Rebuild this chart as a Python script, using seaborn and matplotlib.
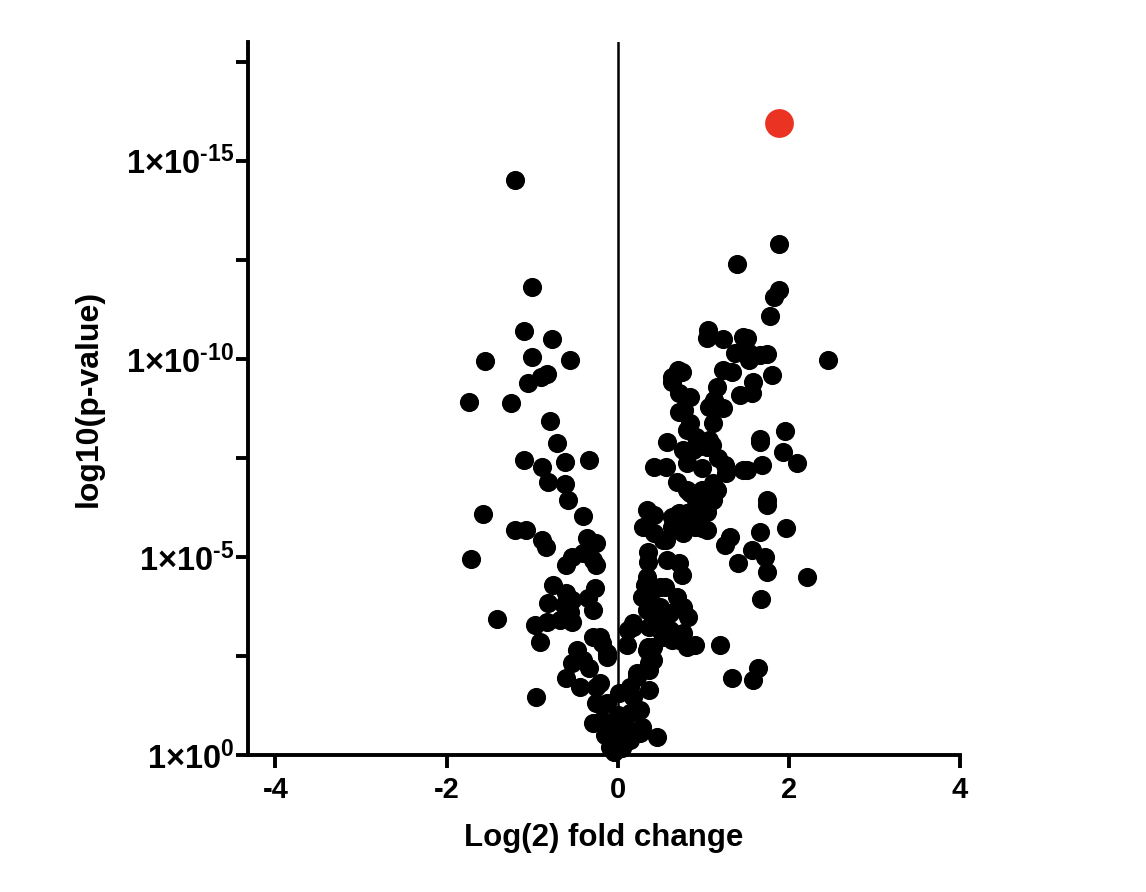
import matplotlib
matplotlib.use("Agg")
import matplotlib.pyplot as plt
import seaborn as sns
import pandas as pd
from matplotlib.ticker import FixedLocator

# ---- data: log2 fold change and -log10(p-value) ----
log2fc = [
    -1.20, -1.00, -1.10, -0.77, -1.55, -1.00, -0.56, -1.05, -0.90, -0.83,
    -1.74, -1.25, -0.79, -0.71, -1.10, -0.88, -0.61, -0.34, -0.81, -0.62,
    -0.58, -0.40, -1.57, -1.20, -1.07, -0.88, -0.84, -0.36, -0.25, -1.72,
    -0.60, -0.53, -0.41, -0.29, -0.25, -0.76, -0.60, -0.82, -0.63, -0.53,
    -0.27, -0.35, -0.29, -1.41, -0.97, -0.83, -0.68, -0.53, -0.91, -0.29,
    -0.18, -0.13, -0.48, -0.53, -0.41, -0.33, -0.60, -0.44, -0.25, -0.95,
    -0.25, -0.13, -0.29, -0.18, -0.06, -0.09, 0.02, -0.56,
    -0.04, 0.05, -0.07, 0.08, 0.00, -0.15, 0.14, 0.11, 0.14, 0.18,
    0.26, 0.26, 0.28, 0.46, 0.02, 0.14, 0.22, 0.37, 0.12, 0.18,
    0.35, 0.37, 0.28, 0.34, 0.49, 0.69, 0.49, 0.64, 0.81, 0.49,
    -0.21, -0.13, -0.21,
    1.74, 1.97, 1.66, 1.31, 1.25, 1.57, 1.72, 1.40, 1.75, 2.21,
    1.68, 1.19, 1.33, 1.64, 1.58, 0.34, 0.43, 0.29, 0.43, 0.53,
    0.64, 0.81, 0.96, 1.04, 0.76, 0.35, 0.35, 0.58, 0.72, 0.75,
    0.32, 0.41, 0.55, 0.76, 0.82, 0.41, 0.18, 0.11, 0.51, 0.61,
    0.72, 0.90, 0.34, 0.41, 0.37, 0.22,
    0.58, 0.76, 0.88, 1.04, 1.10, 0.81, 1.17, 1.25, 0.99, 1.51,
    1.69, 1.93, 2.10, 1.66, 0.43, 0.57, 0.69, 0.81, 1.04, 1.11,
    0.96, 1.11, 0.72, 0.84, 1.04, 0.90, 0.72, 0.57, 0.37, 0.61,
    0.37, 0.53, 0.41, 0.76,
    0.63, 0.72, 0.84, 0.72, 1.16, 1.16, 1.11, 0.81, 0.96, 1.46,
    0.84, 0.99, 1.16, 0.92, 1.07, 0.69, 0.96, 0.64, 0.99, 0.34,
    1.89, 1.39, 1.89, 1.83, 1.78, 1.05, 1.04, 1.23, 1.46, 1.51,
    1.37, 1.54, 1.74, 1.23, 1.34, 1.54, 1.66, 1.80, 2.46, 1.58,
    1.57, 1.43, 0.70, 0.63, 0.78, 1.13, 1.07, 1.23, 0.92, 1.07,
    0.93, 1.27, 1.66, 1.95, 1.75, 0.75, 0.84, 1.11,
]
neglog10_p = [
    14.52, 11.82, 10.71, 10.51, 9.95, 10.05, 9.97, 9.39, 9.55, 9.62,
    8.91, 8.89, 8.43, 7.88, 7.45, 7.27, 7.40, 7.45, 6.89, 6.84,
    6.44, 6.04, 6.09, 5.68, 5.68, 5.43, 5.25, 5.48, 5.35, 4.95,
    4.80, 5.00, 5.10, 4.92, 4.80, 4.29, 4.09, 3.84, 3.79, 3.91,
    4.22, 3.96, 3.66, 3.43, 3.28, 3.36, 3.41, 3.36, 2.85, 2.98,
    2.83, 2.47, 2.65, 2.32, 2.40, 2.20, 1.94, 1.72, 1.72, 1.46,
    1.31, 1.31, 0.81, 0.88, 0.45, 0.20, 0.38, 3.61,
    0.08, 0.18, 0.68, 0.76, 1.01, 0.51, 0.38, 0.63, 1.06, 1.46,
    1.14, 0.56, 0.71, 0.45, 1.57, 1.72, 1.97, 1.64, 3.16, 3.33,
    2.73, 2.32, 3.99, 3.66, 3.74, 3.99, 3.16, 2.90, 2.73, 4.24,
    2.98, 2.58, 1.82,
    6.31, 5.73, 5.63, 5.51, 5.30, 5.18, 5.00, 4.85, 4.62, 4.49,
    3.94, 2.78, 1.94, 2.20, 1.89, 6.19, 6.06, 5.76, 5.61, 5.43,
    6.01, 6.11, 5.86, 5.68, 5.61, 5.13, 4.87, 4.92, 4.85, 4.55,
    4.29, 4.17, 4.24, 3.74, 3.48, 3.48, 3.23, 2.78, 3.33, 3.16,
    2.90, 2.78, 2.65, 2.40, 2.15, 2.07,
    7.90, 7.70, 7.70, 7.78, 7.83, 7.37, 7.50, 7.32, 7.25, 7.20,
    7.32, 7.65, 7.37, 7.90, 7.27, 7.27, 6.89, 6.69, 6.64, 6.87,
    6.36, 6.44, 6.11, 6.14, 6.14, 5.76, 5.76, 5.43, 3.74, 3.59,
    3.23, 2.98, 2.73, 3.08,
    9.42, 9.14, 9.04, 8.66, 9.29, 8.79, 8.38, 8.21, 7.90, 7.20,
    6.62, 6.69, 6.69, 6.44, 6.36, 6.06, 6.26, 5.76, 5.73, 4.49,
    12.90, 12.40, 11.74, 11.57, 11.09, 10.73, 10.53, 10.51, 10.56, 10.53,
    10.15, 10.15, 10.13, 9.72, 9.67, 9.97, 10.10, 9.60, 9.97, 9.42,
    9.14, 9.09, 9.72, 9.55, 8.71, 8.96, 8.79, 8.76, 8.03, 7.95,
    7.78, 7.12, 7.98, 8.18, 6.44, 9.67, 8.38, 8.89,
]
highlight_fc = [1.88]
highlight_p = [15.96]

y_ticks = [0, 5, 10, 15]
y_tick_labels = ["1×10$^{0}$", "1×10$^{\u20105}$",
                 "1×10$^{\u201010}$", "1×10$^{\u201015}$"]
y_minor = [2.5, 7.5, 12.5, 17.5]
x_ticks = [-4, -2, 0, 2, 4]
x_tick_labels = ["-4", "-2", "0", "2", "4"]

df = pd.DataFrame({"fc": log2fc, "nlp": neglog10_p})
df_hi = pd.DataFrame({"fc": highlight_fc, "nlp": highlight_p})

sns.set_style("white")
plt.rcParams["font.family"] = ["Liberation Sans", "DejaVu Sans"]
plt.rcParams["font.weight"] = "bold"
plt.rcParams["text.color"] = "black"
plt.rcParams["axes.labelcolor"] = "black"
plt.rcParams["mathtext.fontset"] = "custom"
plt.rcParams["mathtext.rm"] = "Liberation Sans:bold"
plt.rcParams["mathtext.it"] = "Liberation Sans:bold"
plt.rcParams["mathtext.bf"] = "Liberation Sans:bold"
plt.rcParams["mathtext.default"] = "bf"

fig = plt.figure(figsize=(11.46, 8.92), dpi=100)
ax = fig.add_axes([248 / 1146, 1 - 755 / 892, (960 - 248) / 1146, (755 - 42) / 892])

ax.axvline(0, color="black", linewidth=1.8, zorder=1)

sns.scatterplot(data=df, x="fc", y="nlp", ax=ax, color="black", s=190,
                linewidth=0, zorder=3, clip_on=False)
sns.scatterplot(data=df_hi, x="fc", y="nlp", ax=ax, color="#EA3323", s=430,
                linewidth=0, zorder=4, clip_on=False)

ax.set_xlim(-4.32, 4.0)
ax.set_ylim(0, 18.0)

ax.set_xticks(x_ticks)
ax.set_xticklabels(x_tick_labels, fontsize=21, fontweight="bold")
ax.set_yticks(y_ticks)
ax.set_yticklabels(y_tick_labels, fontsize=23.5, fontweight="bold")
ax.yaxis.set_minor_locator(FixedLocator(y_minor))

for s in ["top", "right"]:
    ax.spines[s].set_visible(False)
for s in ["left", "bottom"]:
    ax.spines[s].set_linewidth(2.8)
    ax.spines[s].set_color("black")

ax.tick_params(axis="both", which="both", direction="out", length=9, width=2.8,
               color="black", labelcolor="black")
ax.tick_params(axis="x", which="major", pad=6, bottom=True)
ax.tick_params(axis="y", which="both", left=True, pad=1)

ax.set_xlabel("Log(2) fold change", fontsize=22.5, fontweight="bold",
              labelpad=14, color="black")
ax.set_ylabel("log10(p-value)", fontsize=23, fontweight="bold",
              labelpad=16, color="black")

fig.savefig("out.png", dpi=100)
